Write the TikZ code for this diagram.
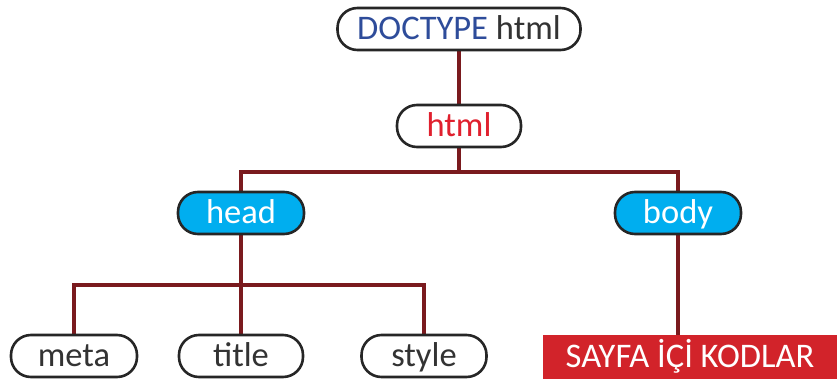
\documentclass[tikz,border=0pt]{standalone}
\usepackage{fontspec}
\setmainfont{Carlito}
\usetikzlibrary{backgrounds}
\definecolor{linec}{HTML}{7A1A1E}
\definecolor{docblue}{HTML}{2E4C9A}
\definecolor{htmlred}{HTML}{E0202E}
\definecolor{cyanf}{HTML}{00AEEF}
\definecolor{boxred}{HTML}{D2232A}
\definecolor{txtgray}{HTML}{333333}
\begin{document}
\begin{tikzpicture}[x=1pt,y=-1pt,
  bubble/.style={draw=black!85,line width=2.6pt,rounded corners=20pt,fill=white,
    minimum height=42pt,inner sep=0pt,text height=24pt,text depth=4pt,
    font=\fontsize{34.5}{38}\selectfont,text=txtgray},
  cbubble/.style={bubble,fill=cyanf,text=white},
  conn/.style={draw=linec,line width=3.2pt}]
\useasboundingbox (0,0) rectangle (837,380);
\coordinate (j1) at (459,172);
\coordinate (j2) at (241,285);
\node[bubble,minimum width=243pt] (doc) at (459,29) {\textcolor{docblue}{DOCTYPE} html};
\node[bubble,minimum width=124pt,text=htmlred] (html) at (459,126) {html};
\node[cbubble,minimum width=126pt] (head) at (241,213) {head};
\node[cbubble,minimum width=126pt] (body) at (678,213) {body};
\node[bubble,minimum width=126pt] (meta) at (74,356) {meta};
\node[bubble,minimum width=124pt] (title) at (241,356) {title};
\node[bubble,minimum width=125pt] (style) at (424,356) {style};
\node[fill=boxred,minimum width=294pt,minimum height=44pt,inner sep=0pt,
  text height=24pt,text depth=4pt,
  font=\fontsize{34.5}{38}\selectfont,text=white] (sayfa) at (690,357) {SAYFA İÇİ KODLAR};
\begin{scope}[on background layer]
\draw[conn] (doc) -- (html);
\draw[conn] (html) -- (j1);
\draw[conn] (head.center) |- (j1) -| (body.center);
\draw[conn] (head) -- (j2);
\draw[conn] (meta.center) |- (j2) -| (style.center);
\draw[conn] (j2) -- (title.center);
\draw[conn] (body.center) -- (body.center |- sayfa.north);
\end{scope}
\end{tikzpicture}
\end{document}
